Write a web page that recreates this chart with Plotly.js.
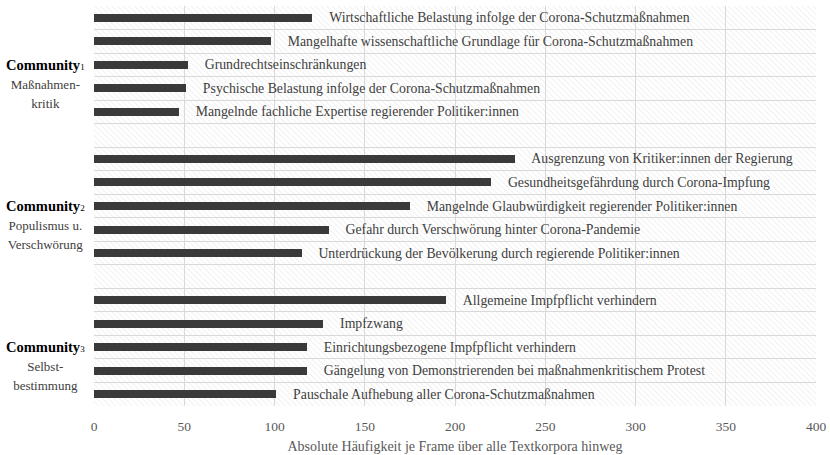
<!DOCTYPE html>
<html>
<head>
<meta charset="utf-8">
<script src="https://cdn.plot.ly/plotly-3.0.1.min.js"></script>
<style>html,body{margin:0;padding:0;background:#fff;}#chart{width:830px;height:455px;}</style>
</head>
<body>
<div id="chart"></div>
<script>
// ---- data ----
const community1Frames = [
  "Wirtschaftliche Belastung infolge der Corona-Schutzmaßnahmen",
  "Mangelhafte wissenschaftliche Grundlage für Corona-Schutzmaßnahmen",
  "Grundrechtseinschränkungen",
  "Psychische Belastung infolge der Corona-Schutzmaßnahmen",
  "Mangelnde fachliche Expertise regierender Politiker:innen"
];
const community1Counts = [121, 98, 52, 51, 47];

const community2Frames = [
  "Ausgrenzung von Kritiker:innen der Regierung",
  "Gesundheitsgefährdung durch Corona-Impfung",
  "Mangelnde Glaubwürdigkeit regierender Politiker:innen",
  "Gefahr durch Verschwörung hinter Corona-Pandemie",
  "Unterdrückung der Bevölkerung durch regierende Politiker:innen"
];
const community2Counts = [233, 220, 175, 130, 115];

const community3Frames = [
  "Allgemeine Impfpflicht verhindern",
  "Impfzwang",
  "Einrichtungsbezogene Impfpflicht verhindern",
  "Gängelung von Demonstrierenden bei maßnahmenkritischem Protest",
  "Pauschale Aufhebung aller Corona-Schutzmaßnahmen"
];
const community3Counts = [195, 127, 118, 118, 101];

const communityNames = ["Community", "Community", "Community"];
const communityNumbers = ["1", "2", "3"];
const communityDescriptions = ["Maßnahmen-<br>kritik", "Populismus u.<br>Verschwörung", "Selbst-<br>bestimmung"];

const xTickValues = [0, 50, 100, 150, 200, 250, 300, 350, 400];
const xAxisTitle = "Absolute Häufigkeit je Frame über alle Textkorpora hinweg";

// ---- build ----
const groups = [
  {frames: community1Frames, counts: community1Counts},
  {frames: community2Frames, counts: community2Counts},
  {frames: community3Frames, counts: community3Counts}
];
const yCats = [], xVals = [], labels = [];
groups.forEach((g, gi) => {
  g.frames.forEach((f, i) => { yCats.push(f); xVals.push(g.counts[i]); labels.push("\u00a0\u00a0\u00a0\u00a0" + f); });
  if (gi < groups.length - 1) { yCats.push("gap" + gi); xVals.push(null); labels.push(""); }
});

const serif = "'Liberation Serif', 'Times New Roman', Times, serif";

const trace = {
  type: "bar",
  orientation: "h",
  y: yCats,
  x: xVals,
  text: labels,
  textposition: "outside",
  constraintext: "none",
  cliponaxis: false,
  textfont: {family: serif, size: 13.8, color: "#404040"},
  marker: {color: "#3a3a3a"},
  width: 0.34,
  hoverinfo: "none"
};

// hatch background
const W = 722, H = 400;
const hatchSvg = '<svg xmlns="http://www.w3.org/2000/svg" width="' + W + '" height="' + H + '" viewBox="0 0 ' + W + ' ' + H + '" preserveAspectRatio="none">' +
  '<defs><pattern id="p" width="4" height="4" patternUnits="userSpaceOnUse" patternTransform="rotate(-45)">' +
  '<rect width="4" height="4" fill="#ffffff"/><line x1="0" y1="0" x2="0" y2="4" stroke="#ececec" stroke-width="1.4"/></pattern></defs>' +
  '<rect width="' + W + '" height="' + H + '" fill="url(#p)"/></svg>';
const hatchSrc = "data:image/svg+xml;charset=utf-8," + encodeURIComponent(hatchSvg);

const annotations = communityNames.map((n, i) => ({
  xref: "paper", yref: "y",
  x: -0.067, xanchor: "center",
  y: groups[i].frames[2], yanchor: "top", yshift: 10,
  align: "center",
  showarrow: false,
  text: "<b>" + n + "</b><span style='font-size:9px'>" + communityNumbers[i] + "</span><br><span style='font-size:13px;color:#404040'>" + communityDescriptions[i] + "</span>",
  font: {family: serif, size: 14.5, color: "#000000"}
}));

const layout = {
  width: 830, height: 455,
  margin: {l: 94, r: 14, t: 6, b: 49},
  paper_bgcolor: "#ffffff",
  plot_bgcolor: "rgba(0,0,0,0)",
  showlegend: false,
  bargap: 0,
  xaxis: {
    range: [0, 400],
    tickvals: xTickValues,
    ticktext: xTickValues.map(String),
    showgrid: true, gridcolor: "#d9d9d9", gridwidth: 1,
    zeroline: false, showline: false,
    ticks: "",
    ticklabelstandoff: 10,
    tickfont: {family: serif, size: 13.5, color: "#595959"},
    title: {text: xAxisTitle, font: {family: serif, size: 14, color: "#595959"}, standoff: 8},
    fixedrange: true
  },
  yaxis: {
    type: "category",
    categoryorder: "array",
    categoryarray: yCats,
    autorange: "reversed",
    showticklabels: false,
    ticks: "",
    tickson: "boundaries",
    showgrid: true, gridcolor: "#d9d9d9", gridwidth: 1,
    zeroline: false, showline: false,
    fixedrange: true
  },
  images: [{
    source: hatchSrc,
    xref: "paper", yref: "paper",
    x: 0, y: 1, sizex: 1, sizey: 1,
    xanchor: "left", yanchor: "top",
    sizing: "stretch", layer: "below"
  }],
  annotations: annotations
};

Plotly.newPlot("chart", [trace], layout, {displayModeBar: false, staticPlot: true});
</script>
</body>
</html>
